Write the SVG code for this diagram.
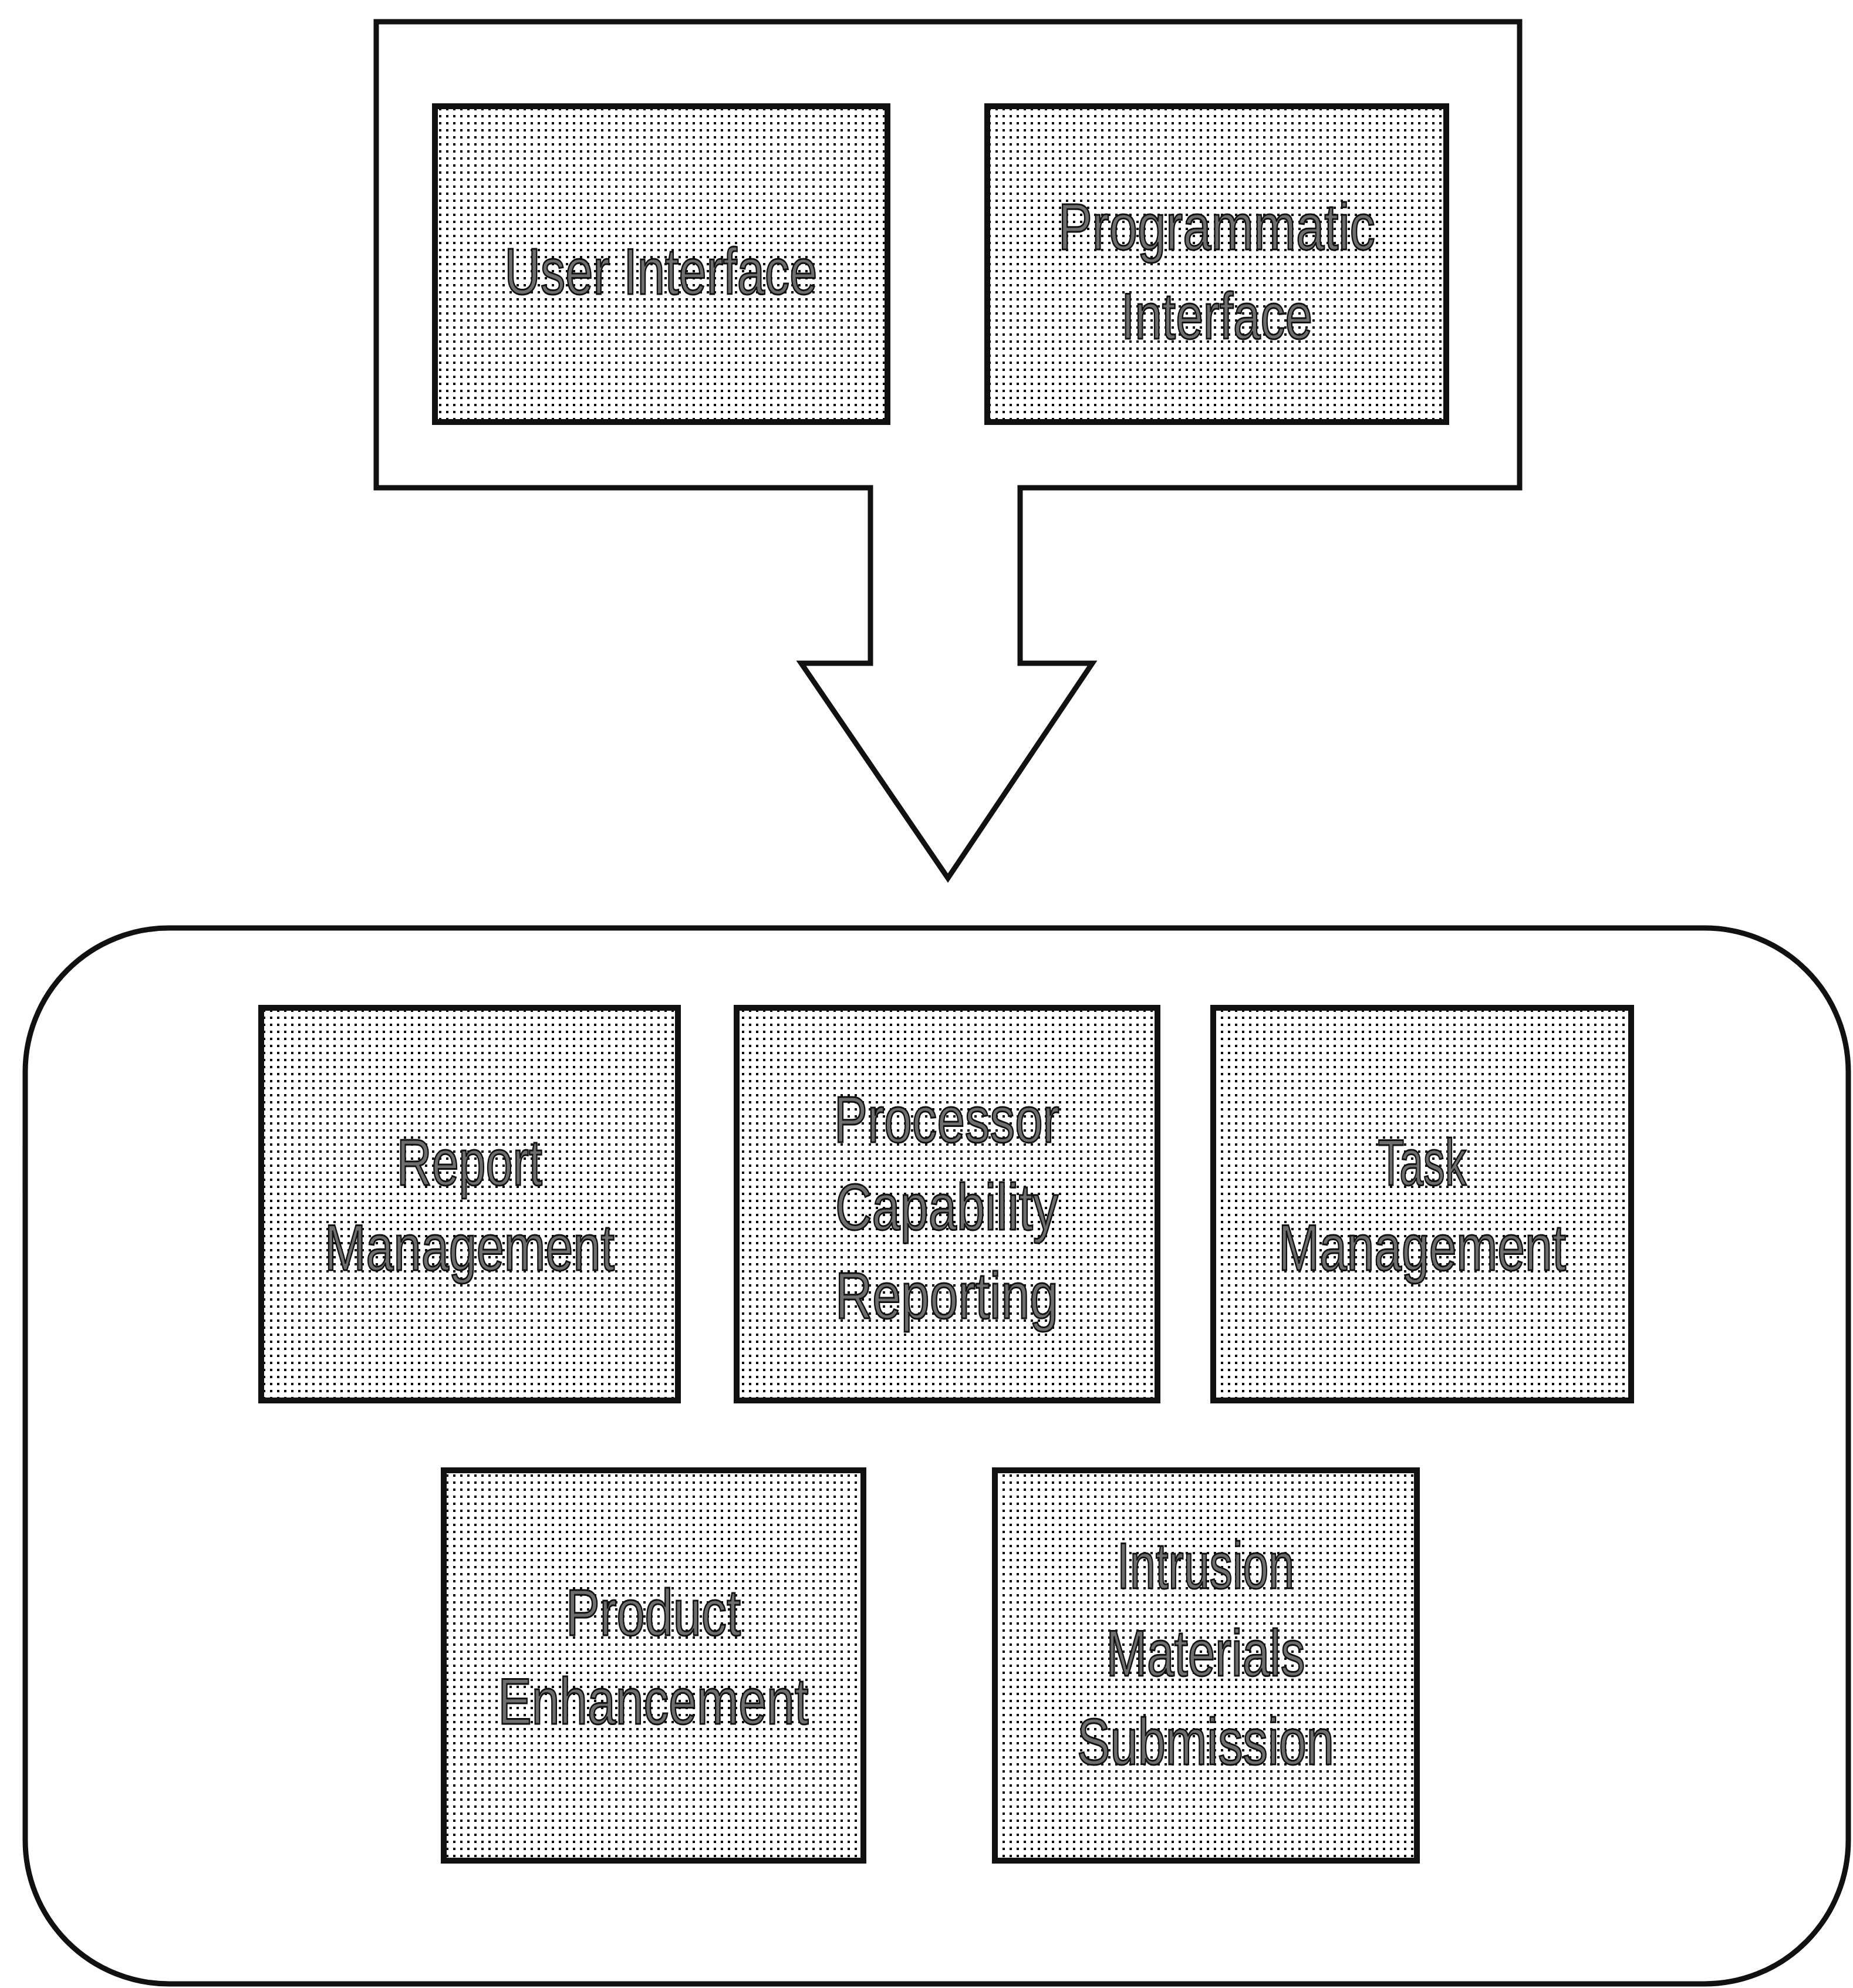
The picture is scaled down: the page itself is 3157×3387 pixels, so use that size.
<svg xmlns="http://www.w3.org/2000/svg" width="3157" height="3387" viewBox="0 0 3157 3387">
<defs>
<pattern id="dots" width="12" height="12" patternUnits="userSpaceOnUse">
<rect width="12" height="12" fill="#ffffff"/>
<rect x="4" y="4" width="4" height="4" fill="#000000"/>
</pattern>
<style>
.outline{fill:#ffffff;stroke:#111111;stroke-width:9;stroke-linejoin:miter}
.box{fill:url(#dots);stroke:#111111;stroke-width:10}
.lbl{font-family:"Liberation Sans",Arial,sans-serif;font-size:112px;fill:#6e6e6e;stroke:#111111;stroke-width:3;text-anchor:middle}
</style>
</defs>
<rect width="3157" height="3387" fill="#ffffff"/>

<g id="connectors">
<path id="interface-arrow" class="outline" d="M641,37 H2589 V831 H1738 V1130 H1861 L1615,1496 L1365,1130 H1483 V831 H641 Z"/>
</g>

<g id="user-interface">
<rect class="box" x="741" y="181" width="771" height="538"/>
<text class="lbl" x="1126" y="501" textLength="533" lengthAdjust="spacingAndGlyphs">User Interface</text>
</g>

<g id="programmatic-interface">
<rect class="box" x="1682" y="181" width="782" height="538"/>
<text class="lbl" x="2073" y="425" textLength="540" lengthAdjust="spacingAndGlyphs">Programmatic</text>
<text class="lbl" x="2073" y="577" textLength="326" lengthAdjust="spacingAndGlyphs">Interface</text>
</g>

<g id="platform">
<rect class="outline" x="43" y="1581" width="3106" height="1799" rx="245" ry="245"/>
</g>

<g id="report-management">
<rect class="box" x="445" y="1717" width="710" height="669"/>
<text class="lbl" x="800" y="2019" textLength="248" lengthAdjust="spacingAndGlyphs">Report</text>
<text class="lbl" x="800" y="2164" textLength="494" lengthAdjust="spacingAndGlyphs">Management</text>
</g>

<g id="processor-capability-reporting">
<rect class="box" x="1255" y="1717" width="717" height="669"/>
<text class="lbl" x="1613" y="1946" textLength="384" lengthAdjust="spacingAndGlyphs">Processor</text>
<text class="lbl" x="1613" y="2095" textLength="380" lengthAdjust="spacingAndGlyphs">Capability</text>
<text class="lbl" x="1613" y="2246" textLength="380" lengthAdjust="spacingAndGlyphs">Reporting</text>
</g>

<g id="task-management">
<rect class="box" x="2067" y="1717" width="712" height="669"/>
<text class="lbl" x="2423" y="2019" textLength="151" lengthAdjust="spacingAndGlyphs">Task</text>
<text class="lbl" x="2423" y="2164" textLength="490" lengthAdjust="spacingAndGlyphs">Management</text>
</g>

<g id="product-enhancement">
<rect class="box" x="756" y="2505" width="715" height="665"/>
<text class="lbl" x="1113" y="2786" textLength="298" lengthAdjust="spacingAndGlyphs">Product</text>
<text class="lbl" x="1113" y="2937" textLength="529" lengthAdjust="spacingAndGlyphs">Enhancement</text>
</g>

<g id="intrusion-materials-submission">
<rect class="box" x="1695" y="2505" width="719" height="665"/>
<text class="lbl" x="2054" y="2706" textLength="302" lengthAdjust="spacingAndGlyphs">Intrusion</text>
<text class="lbl" x="2054" y="2855" textLength="339" lengthAdjust="spacingAndGlyphs">Materials</text>
<text class="lbl" x="2054" y="3006" textLength="438" lengthAdjust="spacingAndGlyphs">Submission</text>
</g>
</svg>
